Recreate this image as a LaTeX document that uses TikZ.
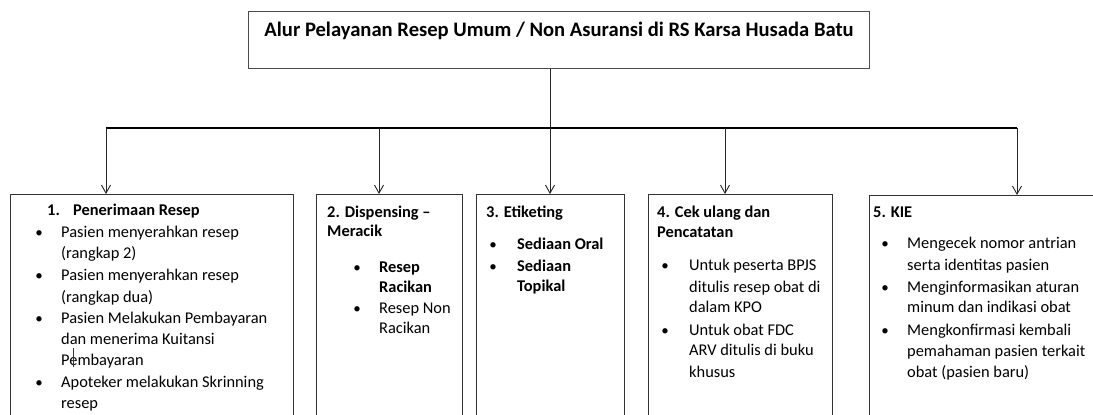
\documentclass[tikz,border=0pt]{standalone}
\usepackage{fontspec}
\setmainfont{Carlito}
\usetikzlibrary{arrows.meta}
\tikzset{
  boxstyle/.style={draw=black!80, line width=1pt, rectangle, anchor=north west, inner sep=0pt},
  txt/.style={anchor=base west, inner sep=0pt, text=black, font=\fontsize{16.4pt}{19pt}\selectfont},
  bold/.style={font=\fontsize{16.4pt}{19pt}\selectfont\bfseries},
  bul/.style={anchor=base, inner sep=0pt, text=black, font=\fontsize{15pt}{17pt}\selectfont},
  conn/.style={draw=black!85, line width=0.9pt},
  arr/.style={conn, -{Straight Barb[length=8pt,width=9pt]}},
}
\newcommand\Tl[4]{\node[txt,#1] (#2) at (#3) {#4};}
\newcommand\Bu[2]{\node[bul] (#1) at (#2) {\textbullet};}
\begin{document}
\begin{tikzpicture}[x=1pt,y=-1pt]
\useasboundingbox (0,0) rectangle (1093,415);
\clip (0,0) rectangle (1093,415);
% title
\node[boxstyle, draw=black!70, minimum width=621pt, minimum height=57pt] (title) at (248,11) {};
\node[anchor=base, inner sep=0pt, font=\fontsize{20.6pt}{24pt}\selectfont\bfseries] (ttext) at (559,36) {Alur Pelayanan Resep Umum / Non Asuransi di RS Karsa Husada Batu};
% boxes
\node[boxstyle, minimum width=283pt, minimum height=240pt] (b1) at (10,194) {};
\node[boxstyle, minimum width=146pt, minimum height=240pt] (b2) at (316,194) {};
\node[boxstyle, minimum width=148pt, minimum height=240pt] (b3) at (476,194) {};
\node[boxstyle, minimum width=184pt, minimum height=240pt] (b4) at (648,194) {};
\node[boxstyle, minimum width=250pt, minimum height=240pt] (b5) at (869,195) {};
% junctions
\coordinate (jc) at (550,128);
\coordinate (j1) at (106,128);
\coordinate (j2) at (379,128);
\coordinate (j3) at (550,128);
\coordinate (j4) at (725,128);
\coordinate (j5) at (1017,128);
\draw[conn] (title.south -| jc) -- (jc);
\draw[draw=black, line width=2pt] (j1) -- (j5);
\draw[arr] (j1) -- (j1 |- b1.north);
\draw[arr] (j2) -- (j2 |- b2.north);
\draw[arr] (j3) -- (j3 |- b3.north);
\draw[arr] (j4) -- (j4 |- b4.north);
\draw[arr] (j5) -- (j5 |- b5.north);
% box 1
\Tl{bold}{h1a}{47,215}{1.}
\Tl{bold}{h1b}{73,215}{Penerimaan Resep}
\Bu{u1a}{39,237}\Tl{}{t1a}{61,237}{Pasien menyerahkan resep}
\Tl{}{t1b}{61,258}{(rangkap 2)}
\Bu{u1b}{39,280}\Tl{}{t1c}{61,280}{Pasien menyerahkan resep}
\Tl{}{t1d}{61,302}{(rangkap dua)}
\Bu{u1c}{39,323}\Tl{}{t1e}{61,323}{Pasien Melakukan Pembayaran}
\Tl{}{t1f}{61,344}{dan menerima Kuitansi}
\Tl{}{t1g}{61,365}{Pembayaran}
\Bu{u1d}{39,387}\Tl{}{t1h}{61,387}{Apoteker melakukan Skrinning}
\Tl{}{t1i}{61,408}{resep}
\draw[black!80, line width=0.7pt] (73,348) -- (73,367);
% box 2
\Tl{bold}{h2a}{327,217}{2. Dispensing –}
\Tl{bold}{h2b}{327,236}{Meracik}
\Bu{u2a}{357,272}\Tl{bold}{t2a}{379,272}{Resep}
\Tl{bold}{t2b}{379,292}{Racikan}
\Bu{u2b}{357,313}\Tl{}{t2c}{379,313}{Resep Non}
\Tl{}{t2d}{379,333}{Racikan}
% box 3
\Tl{bold}{h3a}{486,217}{3. Etiketing}
\Bu{u3a}{493,249}\Tl{bold}{t3a}{517,249}{Sediaan Oral}
\Bu{u3b}{493,271}\Tl{bold}{t3b}{517,271}{Sediaan}
\Tl{bold}{t3c}{517,291}{Topikal}
% box 4
\Tl{bold}{h4a}{657,217}{4. Cek ulang dan}
\Tl{bold}{h4b}{657,237}{Pencatatan}
\Bu{u4a}{665,270}\Tl{}{t4a}{689,270}{Untuk peserta BPJS}
\Tl{}{t4b}{689,292}{ditulis resep obat di}
\Tl{}{t4c}{689,312}{dalam KPO}
\Bu{u4b}{665,335}\Tl{}{t4d}{689,335}{Untuk obat FDC}
\Tl{}{t4e}{689,355}{ARV ditulis di buku}
\Tl{}{t4f}{689,377}{khusus}
% box 5
\Tl{bold}{h5a}{873,217}{5. KIE}
\Bu{u5a}{885,248}\Tl{}{t5a}{907,248}{Mengecek nomor antrian}
\Tl{}{t5b}{907,270}{serta identitas pasien}
\Bu{u5b}{885,292}\Tl{}{t5c}{907,292}{Menginformasikan aturan}
\Tl{}{t5d}{907,312}{minum dan indikasi obat}
\Bu{u5c}{885,335}\Tl{}{t5e}{907,335}{Mengkonfirmasi kembali}
\Tl{}{t5f}{907,356}{pemahaman pasien terkait}
\Tl{}{t5g}{907,377}{obat (pasien baru)}
\end{tikzpicture}
\end{document}
